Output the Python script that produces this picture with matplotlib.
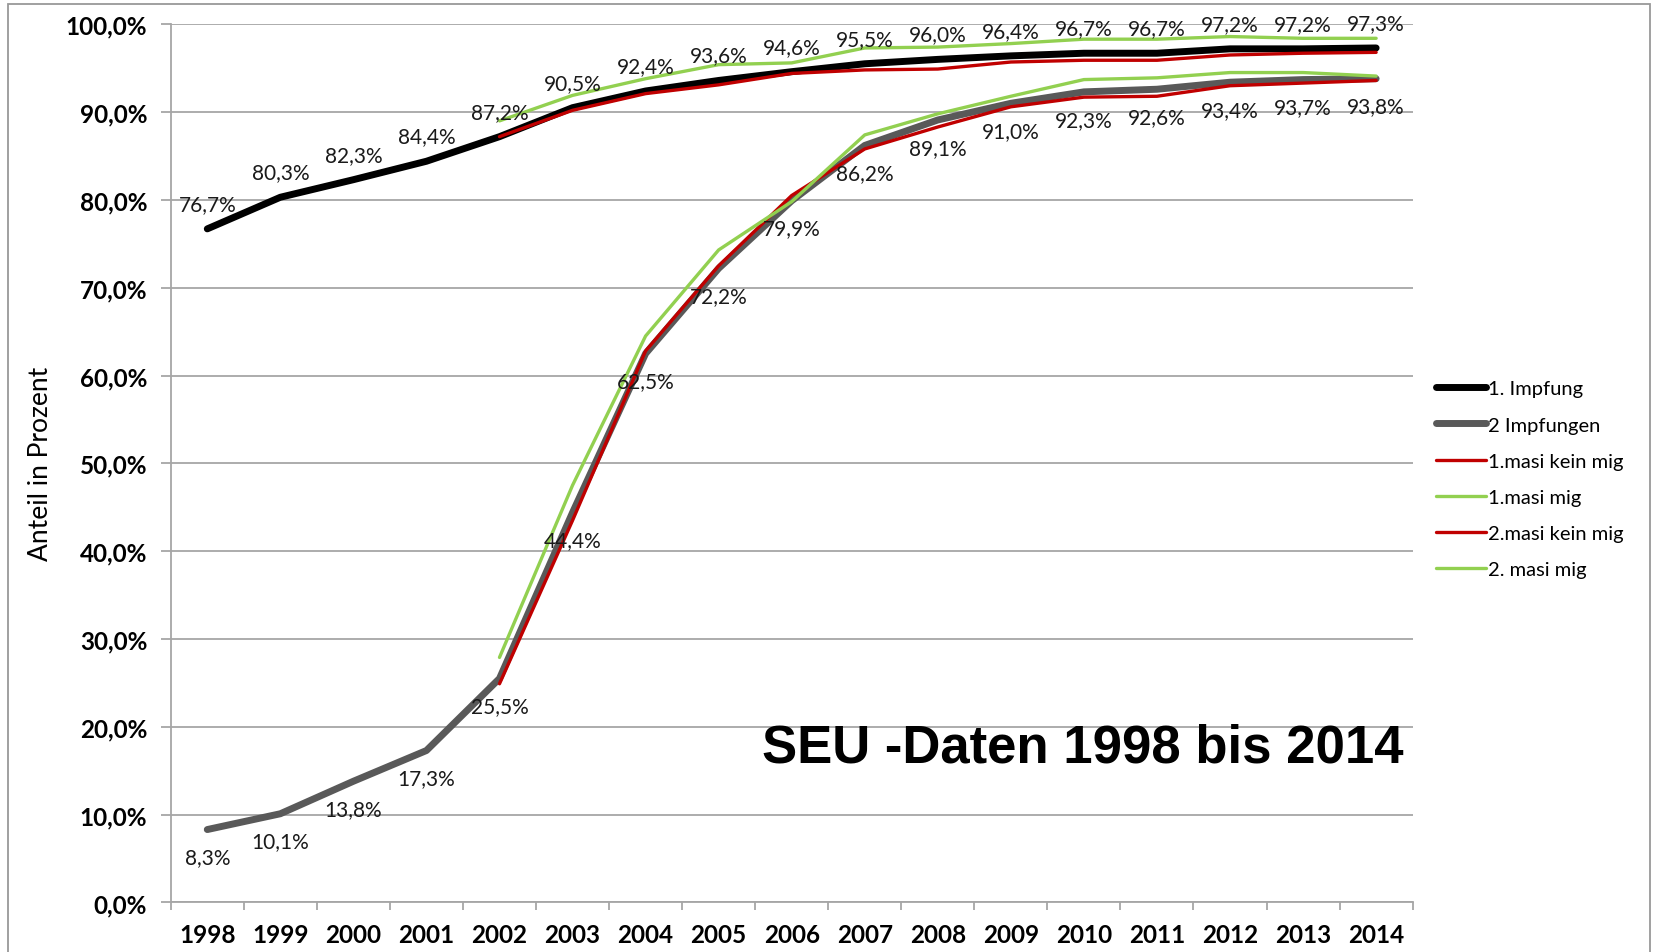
import matplotlib
matplotlib.use("Agg")

import numpy as np
import matplotlib.pyplot as plt
from matplotlib.patches import Rectangle

years = ["1998", "1999", "2000", "2001", "2002", "2003", "2004", "2005", "2006",
         "2007", "2008", "2009", "2010", "2011", "2012", "2013", "2014"]

nan = np.nan
impf1 = [76.7, 80.3, 82.3, 84.4, 87.2, 90.5, 92.4, 93.6, 94.6,
         95.5, 96.0, 96.4, 96.7, 96.7, 97.2, 97.2, 97.3]
impf2 = [8.3, 10.1, 13.8, 17.3, 25.5, 44.4, 62.5, 72.2, 79.9,
         86.2, 89.1, 91.0, 92.3, 92.6, 93.4, 93.7, 93.8]
masi1_kein = [nan, nan, nan, nan, 87.2, 90.2, 92.1, 93.1, 94.4,
              94.8, 94.9, 95.7, 95.9, 95.9, 96.5, 96.7, 96.8]
masi1_mig = [nan, nan, nan, nan, 89.0, 91.9, 93.8, 95.4, 95.6,
             97.3, 97.4, 97.8, 98.3, 98.3, 98.6, 98.4, 98.4]
masi2_kein = [nan, nan, nan, nan, 24.9, 43.5, 62.8, 72.5, 80.5,
              85.8, 88.3, 90.6, 91.7, 91.8, 93.0, 93.3, 93.6]
masi2_mig = [nan, nan, nan, nan, 27.9, 47.5, 64.5, 74.3, 79.8,
             87.4, 89.8, 91.8, 93.7, 93.9, 94.5, 94.5, 94.1]

series = [
    ("1. Impfung", impf1, "#000000", 5.0),
    ("2 Impfungen", impf2, "#595959", 5.0),
    ("1.masi kein mig", masi1_kein, "#c00000", 2.4),
    ("1.masi mig", masi1_mig, "#92d050", 2.4),
    ("2.masi kein mig", masi2_kein, "#c00000", 2.4),
    ("2. masi mig", masi2_mig, "#92d050", 2.4),
]


def pct(v):
    return f"{v:.1f}".replace(".", ",") + "%"


def run():
    plt.rcParams["font.family"] = ["Lato", "DejaVu Sans"]

    fig = plt.figure(figsize=(16.53, 9.53), dpi=100)
    ax = fig.add_axes([0.1033, 0.052, 0.7513, 0.9215])

    x = np.arange(len(years))
    for name, vals, col, lw in series:
        ax.plot(x, vals, color=col, lw=lw, label=name,
                solid_capstyle="round", solid_joinstyle="round")

    # data labels
    for i, v in enumerate(impf1):
        ax.annotate(pct(v), (x[i], v), xytext=(0, 18), textcoords="offset points",
                    ha="center", va="center", fontsize=15, color="#1a1a1a", zorder=10)
    for i, v in enumerate(impf2):
        ax.annotate(pct(v), (x[i], v), xytext=(0, -20), textcoords="offset points",
                    ha="center", va="center", fontsize=15, color="#1a1a1a", zorder=10)

    ax.set_xlim(-0.5, len(years) - 0.5)
    ax.set_ylim(0, 100)

    ax.set_yticks(np.arange(0, 101, 10))
    ax.set_yticklabels([pct(v) for v in np.arange(0, 101, 10)],
                       fontsize=17.5, fontweight="bold")
    ax.yaxis.grid(True, color="#a6a6a6", lw=1.3)
    ax.set_axisbelow(True)

    ax.set_xticks(x)
    ax.set_xticklabels(years, fontsize=17.5, fontweight="bold")
    ax.set_xticks(np.arange(-0.5, len(years)), minor=True)
    ax.tick_params(axis="x", which="major", length=0, pad=15)
    ax.tick_params(axis="x", which="minor", length=6, color="#a6a6a6", width=1.3)
    ax.tick_params(axis="y", length=7, color="#a6a6a6", width=1.3, pad=10)

    for s in ["top", "right"]:
        ax.spines[s].set_visible(False)
    for s in ["left", "bottom"]:
        ax.spines[s].set_color("#a6a6a6")
        ax.spines[s].set_linewidth(1.3)

    ax.set_ylabel("Anteil in Prozent", fontsize=19)
    ax.yaxis.set_label_coords(-0.095, 0.5)

    ax.text(0.993, 0.176, "SEU -Daten 1998 bis 2014", transform=ax.transAxes,
            ha="right", va="center", fontsize=38, fontweight="bold",
            family=["Liberation Sans Narrow", "Liberation Sans"])

    fig.legend(loc="center left", bbox_to_anchor=(0.8687, 0.496),
               bbox_transform=fig.transFigure, frameon=False, fontsize=14.5,
               handlelength=2.5, handletextpad=0.1, labelspacing=0.95,
               borderpad=0, borderaxespad=0)

    fig.patches.append(Rectangle((0.005, -0.02), 0.993, 1.0144, transform=fig.transFigure,
                                 fill=False, edgecolor="#999999", lw=1.3))

    fig.savefig("out.png", dpi=100)
    plt.close(fig)


if __name__ == "__main__":
    run()
